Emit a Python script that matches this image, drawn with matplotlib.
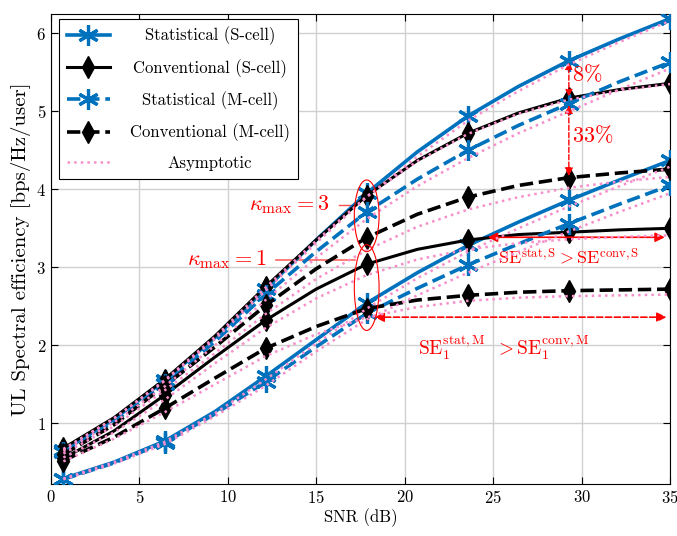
import numpy as np
import matplotlib
matplotlib.use('Agg')
import matplotlib.pyplot as plt
from matplotlib.patches import Ellipse
from matplotlib.lines import Line2D
from matplotlib.transforms import Affine2D

plt.rcParams['font.family'] = 'serif'
plt.rcParams['font.serif'] = ['cmr10', 'DejaVu Serif']
plt.rcParams['mathtext.fontset'] = 'cm'
plt.rcParams['axes.formatter.use_mathtext'] = True

# SNR grid (markers on every other point)
snr = [0.7, 3.56, 6.42, 9.28, 12.13, 14.99, 17.85, 20.71, 23.57, 26.43, 29.28, 32.14, 35.0]

# kappa_max = 3
stat_s3 = [0.65, 1.05, 1.55, 2.10, 2.72, 3.35, 3.95, 4.48, 4.94, 5.32, 5.65, 5.93, 6.19]
conv_s3 = [0.68, 1.07, 1.56, 2.12, 2.75, 3.35, 3.92, 4.37, 4.72, 4.98, 5.17, 5.28, 5.36]
stat_m3 = [0.63, 1.02, 1.50, 2.05, 2.65, 3.20, 3.71, 4.13, 4.50, 4.82, 5.10, 5.38, 5.63]
conv_m3 = [0.60, 0.98, 1.48, 1.98, 2.51, 2.98, 3.38, 3.68, 3.90, 4.05, 4.15, 4.21, 4.26]
# kappa_max = 1
conv_s1 = [0.55, 0.90, 1.36, 1.85, 2.32, 2.72, 3.04, 3.23, 3.35, 3.42, 3.45, 3.48, 3.50]
conv_m1 = [0.52, 0.82, 1.19, 1.58, 1.96, 2.24, 2.47, 2.58, 2.64, 2.68, 2.70, 2.71, 2.72]
stat_s1 = [0.29, 0.50, 0.77, 1.15, 1.60, 2.07, 2.54, 2.93, 3.28, 3.58, 3.86, 4.12, 4.37]
stat_m1 = [0.28, 0.49, 0.75, 1.12, 1.53, 1.98, 2.41, 2.73, 3.03, 3.30, 3.56, 3.81, 4.05]

# asymptotic approximations
asy_stat_s3 = [0.66, 1.06, 1.54, 2.08, 2.70, 3.31, 3.90, 4.42, 4.88, 5.26, 5.60, 5.89, 6.16]
asy_conv_s3 = [0.67, 1.06, 1.55, 2.11, 2.74, 3.34, 3.91, 4.36, 4.71, 4.97, 5.15, 5.27, 5.35]
asy_stat_m3 = [0.64, 1.01, 1.47, 2.00, 2.58, 3.12, 3.62, 4.04, 4.40, 4.72, 5.00, 5.28, 5.55]
asy_conv_m3 = [0.61, 0.96, 1.42, 1.90, 2.40, 2.85, 3.22, 3.52, 3.74, 3.90, 4.02, 4.10, 4.16]
asy_conv_s1 = [0.56, 0.88, 1.30, 1.77, 2.22, 2.60, 2.90, 3.10, 3.23, 3.31, 3.36, 3.39, 3.41]
asy_conv_m1 = [0.51, 0.80, 1.14, 1.50, 1.86, 2.14, 2.36, 2.49, 2.57, 2.61, 2.63, 2.64, 2.65]
asy_stat_s1 = [0.29, 0.50, 0.76, 1.13, 1.56, 2.02, 2.47, 2.86, 3.20, 3.50, 3.78, 4.04, 4.29]
asy_stat_m1 = [0.28, 0.48, 0.73, 1.09, 1.48, 1.92, 2.33, 2.64, 2.93, 3.20, 3.46, 3.71, 3.95]

legend_labels = ['Statistical (S-cell)', 'Conventional (S-cell)',
                 'Statistical (M-cell)', 'Conventional (M-cell)', 'Asymptotic']

blue = '#0072BD'
pink = '#f78fcb'
red = '#ff0000'
ast = (6, 2, 0)  # matlab-like asterisk

fig = plt.figure(figsize=(6.77, 5.36), dpi=100)
ax = fig.add_axes([0.0753, 0.097, 0.9144, 0.877])

for a in [asy_stat_s3, asy_conv_s3, asy_stat_m3, asy_conv_m3,
          asy_conv_s1, asy_conv_m1, asy_stat_s1, asy_stat_m1]:
    ax.plot(snr, a, color=pink, ls=':', lw=1.8, zorder=4)

blue_mk = dict(marker=ast, ms=15, mew=2.3, markevery=2)
blk_mk = dict(marker='d', ms=11, markevery=2)
for s in [stat_s3, stat_s1]:
    ax.plot(snr, s, color=blue, ls='-', lw=2.6, zorder=3, **blue_mk)
for s in [conv_s3, conv_s1]:
    ax.plot(snr, s, color='k', ls='-', lw=2.2, zorder=3, **blk_mk)
for s in [stat_m3, stat_m1]:
    ax.plot(snr, s, color=blue, ls='--', lw=2.6, zorder=3, **blue_mk)
for s in [conv_m3, conv_m1]:
    ax.plot(snr, s, color='k', ls='--', lw=2.6, zorder=3, **blk_mk)

ax.set_xlim(0, 35)
ax.set_ylim(0.22, 6.25)
ax.set_xticks(np.arange(0, 36, 5))
ax.set_yticks(np.arange(1, 7, 1))
ax.grid(True, color='#d0d0d0', lw=1)
ax.set_axisbelow(True)
ax.tick_params(direction='in', top=True, right=True, labelsize=12, length=5)
ax.set_xlabel('SNR (dB)', fontsize=12, labelpad=2)
ax.set_ylabel('UL Spectral efficiency [bps/Hz/user]', fontsize=15, labelpad=4)

# annotations
ax.add_patch(Ellipse((17.85, 3.66), 1.4, 0.92, fill=False, ec=red, lw=0.8, zorder=6))
ax.add_patch(Ellipse((17.85, 2.74), 1.4, 1.1, fill=False, ec=red, lw=0.8, zorder=6))
ax.text(11.2, 3.8, r'$\kappa_{\max}=3$', color=red, fontsize=16, va='center', ha='left')
ax.plot([16.3, 17.2], [3.8, 3.8], color=red, lw=1, alpha=0.7)
ax.text(7.7, 3.1, r'$\kappa_{\max}=1$', color=red, fontsize=16, va='center', ha='left')
ax.plot([12.7, 17.2], [3.09, 3.09], color=red, lw=1.2, alpha=0.6)

ax.annotate('', xy=(29.28, 5.63), xytext=(29.28, 5.19),
            arrowprops=dict(arrowstyle='<|-|>', color=red, lw=1, ls='--',
                            mutation_scale=10, shrinkA=0, shrinkB=0))
ax.text(29.45, 5.47, r'$8\%$', color=red, fontsize=16, va='center')
ax.annotate('', xy=(29.28, 5.08), xytext=(29.28, 4.17),
            arrowprops=dict(arrowstyle='<|-|>', color=red, lw=1, ls='--',
                            mutation_scale=12, shrinkA=0, shrinkB=0))
ax.text(29.45, 4.7, r'$33\%$', color=red, fontsize=16, va='center')

ax.annotate('', xy=(24.7, 3.385), xytext=(34.7, 3.385),
            arrowprops=dict(arrowstyle='<|-|>', color=red, lw=1.2,
                            mutation_scale=14, shrinkA=0, shrinkB=0))
ax.text(25.3, 3.14, r'$\mathrm{SE}^{\mathrm{stat,S}} > \mathrm{SE}^{\mathrm{conv,S}}$',
        color=red, fontsize=13, va='center')
ax.annotate('', xy=(18.3, 2.36), xytext=(34.8, 2.36),
            arrowprops=dict(arrowstyle='<|-|>', color=red, lw=1.2, ls='--',
                            mutation_scale=14, shrinkA=0, shrinkB=0))
ax.text(20.75, 1.97, r'$\mathrm{SE}_1^{\mathrm{stat,M}}\;\; > \mathrm{SE}_1^{\mathrm{conv,M}}$',
        color=red, fontsize=14, va='center')

handles = [
    Line2D([], [], color=blue, ls='-', lw=2.6, marker=ast, ms=15, mew=2.3),
    Line2D([], [], color='k', ls='-', lw=2.2, marker='d', ms=11),
    Line2D([], [], color=blue, ls='--', lw=2.6, marker=ast, ms=15, mew=2.3),
    Line2D([], [], color='k', ls='--', lw=2.6, marker='d', ms=11),
    Line2D([], [], color=pink, ls=':', lw=1.8),
]
leg = ax.legend(handles, legend_labels, loc='upper left', bbox_to_anchor=(0.0, 1.007),
                fontsize=12, frameon=True, fancybox=False, edgecolor='k',
                framealpha=1, handlelength=2.6, borderpad=0.45, labelspacing=0.82,
                handletextpad=1.2)
leg.get_frame().set_linewidth(0.8)
leg.set_zorder(10)

# centre the legend labels, matlab style
fig.canvas.draw()
r = fig.canvas.get_renderer()
widths = [t.get_window_extent(r).width for t in leg.get_texts()]
wmax = max(widths)
for t, w in zip(leg.get_texts(), widths):
    t.set_transform(t.get_transform() + Affine2D().translate((wmax - w) / 2, 0))

fig.savefig('out.png', dpi=100)
